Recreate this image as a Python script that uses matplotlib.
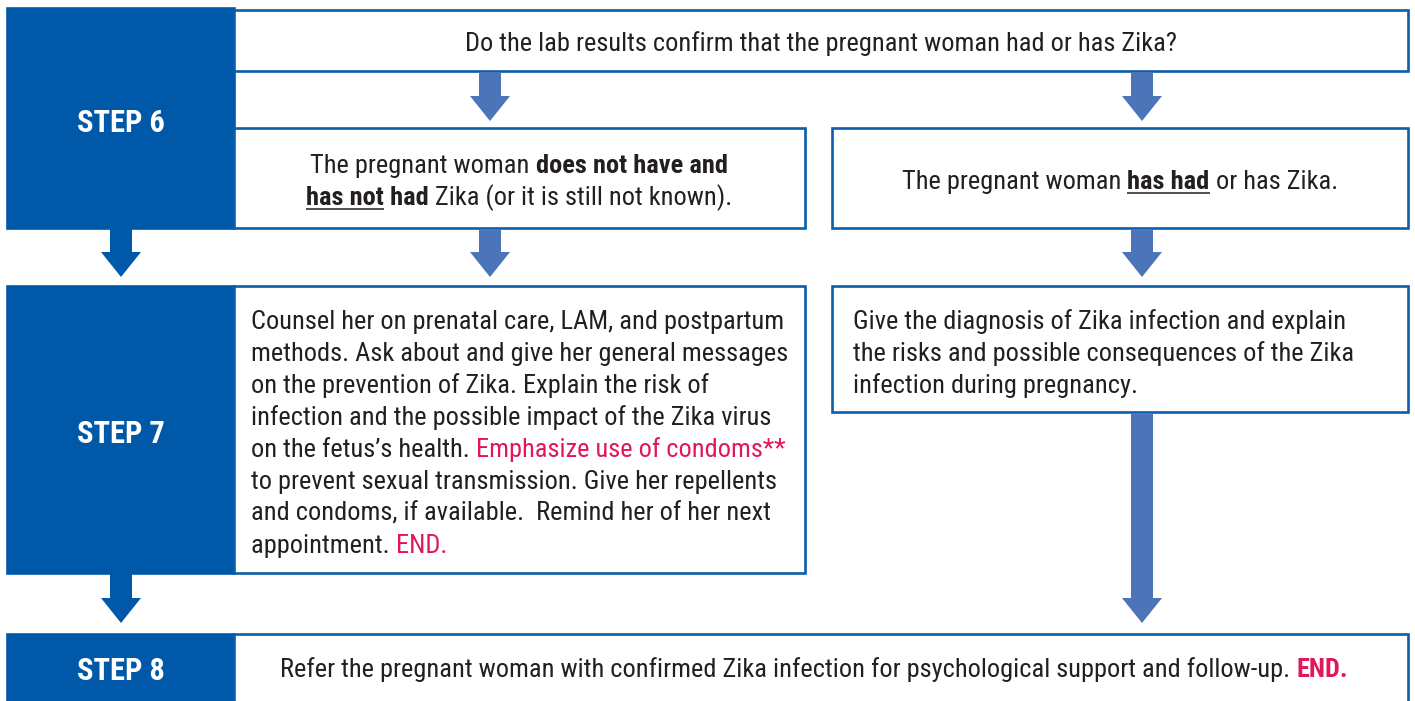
import matplotlib as mpl
import matplotlib.pyplot as plt
from matplotlib.patches import Rectangle, Polygon

mpl.use("agg")

# colours
STEP_BLUE = "#0059a8"
EDGE_BLUE = "#0b5eab"
ARROW_BLUE = "#4b74b9"
INK = "#231f20"
PINK = "#e0185a"
FONT = ["Roboto Condensed", "DejaVu Sans"]

# texts of the flowchart, one list of runs per line
STEPS = ["STEP 6", "STEP 7", "STEP 8"]
QUESTION = [[("Do the lab results confirm that the pregnant woman had or has Zika?", "n")]]
NO_ZIKA = [
    [("The pregnant woman ", "n"), ("does not have and", "b")],
    [("has not", "bu"), (" had", "b"), (" Zika (or it is still not known).", "n")],
]
HAS_ZIKA = [[("The pregnant woman ", "n"), ("has had", "bu"), (" or has Zika.", "n")]]
COUNSEL = [
    [("Counsel her on prenatal care, LAM, and postpartum", "n")],
    [("methods. Ask about and give her general messages", "n")],
    [("on the prevention of Zika. Explain the risk of", "n")],
    [("infection and the possible impact of the Zika virus", "n")],
    [("on the fetus\u2019s health. ", "n"), ("Emphasize use of condoms**", "r")],
    [("to prevent sexual transmission. Give her repellents", "n")],
    [("and condoms, if available.  Remind her of her next", "n")],
    [("appointment. ", "n"), ("END.", "r")],
]
DIAGNOSIS = [
    [("Give the diagnosis of Zika infection and explain", "n")],
    [("the risks and possible consequences of the Zika", "n")],
    [("infection during pregnancy.", "n")],
]
REFER = [[("Refer the pregnant woman with confirmed Zika infection for psychological support and follow-up. ", "n"),
          ("END.", "rb")]]

STYLE = {
    "n": dict(weight="normal", color=INK, ul=False),
    "b": dict(weight="bold", color=INK, ul=False),
    "bu": dict(weight="bold", color=INK, ul=True),
    "r": dict(weight="normal", color=PINK, ul=False),
    "rb": dict(weight="bold", color=PINK, ul=False),
}

fig = plt.figure(figsize=(14.15, 7.01), dpi=100)
ax = fig.add_axes([0, 0, 1, 1])
ax.set_xlim(0, 1415)
ax.set_ylim(701, 0)
ax.axis("off")
renderer = fig.canvas.get_renderer()


def text_w(s, size, weight):
    # measure with a sentinel so that spaces at the ends count
    t = ax.text(0, 0, s + "x", fontsize=size, fontweight=weight, family=FONT)
    w1 = t.get_window_extent(renderer).width
    t.set_text("x")
    w0 = t.get_window_extent(renderer).width
    t.remove()
    return w1 - w0


def draw_lines(x, y0, lines, size=19, ha="left", step=32):
    for i, runs in enumerate(lines):
        y = y0 + i * step
        widths = [text_w(s, size, STYLE[k]["weight"]) for s, k in runs]
        xx = x - sum(widths) / 2 if ha == "center" else x
        for (s, k), w in zip(runs, widths):
            st = STYLE[k]
            ax.text(xx, y, s, fontsize=size, fontweight=st["weight"], color=st["color"],
                    va="baseline", ha="left", family=FONT)
            if st["ul"]:
                ax.plot([xx, xx + w], [y + 3.5, y + 3.5], color=INK, lw=1.1, solid_capstyle="butt")
            xx += w


def box(x0, y0, x1, y1, fill="white", edge=EDGE_BLUE):
    ax.add_patch(Rectangle((x0, y0), x1 - x0, y1 - y0, facecolor=fill, edgecolor=edge, lw=1.9))


def arrow(x, y0, y1, color=ARROW_BLUE, shaft=22, head=40, head_len=25):
    pts = [(x - shaft / 2, y0), (x + shaft / 2, y0), (x + shaft / 2, y1 - head_len),
           (x + head / 2, y1 - head_len), (x, y1), (x - head / 2, y1 - head_len),
           (x - shaft / 2, y1 - head_len)]
    ax.add_patch(Polygon(pts, closed=True, facecolor=color, edgecolor="none"))


# step column
box(7, 8, 234, 228, fill=STEP_BLUE, edge=STEP_BLUE)
box(7, 286, 234, 573, fill=STEP_BLUE, edge=STEP_BLUE)
box(7, 634, 234, 705, fill=STEP_BLUE, edge=STEP_BLUE)
arrow(121, 228, 277, color=STEP_BLUE)
arrow(121, 573, 623, color=STEP_BLUE)
for label, yb in zip(STEPS, [132, 443, 680]):
    ax.text(121, yb, label, fontsize=22, fontweight="bold", color="white",
            ha="center", va="baseline", family=FONT)

# content boxes
box(234, 10, 1408, 71)
box(234, 128, 805, 228)
box(832, 128, 1408, 228)
box(234, 286, 805, 573)
box(832, 286, 1408, 412)
box(234, 634, 1408, 705)

arrow(490, 72, 121)
arrow(1142, 72, 121)
arrow(490, 229, 277)
arrow(1142, 229, 277)
arrow(1142, 413, 623)

draw_lines(821, 51, QUESTION, ha="center")
draw_lines(519, 173, NO_ZIKA, ha="center")
draw_lines(1120, 189, HAS_ZIKA, ha="center")
draw_lines(251, 329, COUNSEL)
draw_lines(853, 329, DIAGNOSIS)
draw_lines(814, 677, REFER, ha="center")

fig.savefig("out.png", dpi=100)
